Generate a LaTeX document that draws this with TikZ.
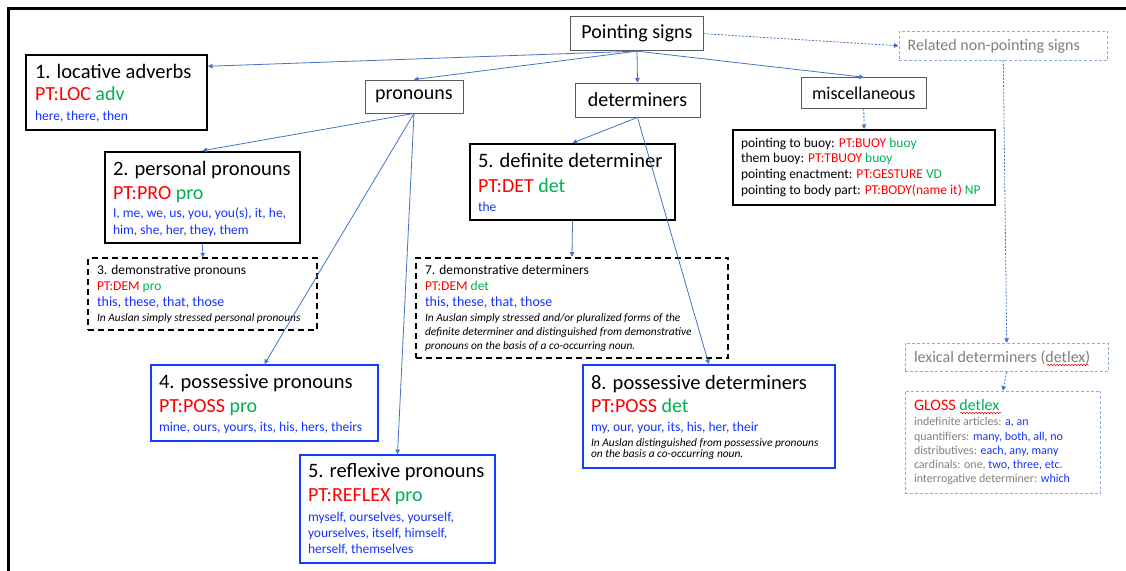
\documentclass[tikz,border=0pt]{standalone}
\usepackage{fontspec}
\setmainfont{Carlito}
\usetikzlibrary{arrows.meta,decorations.pathmorphing}

\definecolor{ptred}{RGB}{255,0,0}
\definecolor{ptgreen}{RGB}{0,176,80}
\definecolor{ptblue}{RGB}{20,50,255}
\definecolor{boxblue}{RGB}{20,60,255}
\definecolor{linkblue}{RGB}{68,114,196}
\definecolor{softblue}{RGB}{143,170,220}
\definecolor{textgray}{RGB}{127,127,127}
\definecolor{boxgray}{RGB}{89,89,89}

\newcommand\setfs[1]{\fontsize{#1}{#1}\selectfont}
\newcommand\txtline[4]{\node[txt] (#1) at (#2,#3) {#4};}
\newcommand\rd[1]{\textcolor{ptred}{#1}}
\newcommand\gr[1]{\textcolor{ptgreen}{#1}}
\newcommand\bl[1]{\textcolor{ptblue}{#1}}

\tikzset{
  frame/.style={line width=3pt, black, line join=miter},
  catbox/.style={draw=boxgray, line width=0.9pt, inner sep=0, font=\setfs{20}},
  solidbox/.style={draw=black, line width=2pt, inner sep=0},
  dashbox/.style={draw=black, line width=2pt, dash pattern=on 6pt off 4pt, inner sep=0},
  bluebox/.style={draw=boxblue, line width=2pt, inner sep=0},
  softbox/.style={draw=softblue, line width=0.9pt, dash pattern=on 3pt off 2pt, inner sep=0},
  txt/.style={anchor=base west, inner sep=0, outer sep=0},
  note/.style={font=\setfs{11.4}\itshape},
  link/.style={draw=linkblue, line width=0.8pt, -{Triangle[length=4.5pt,width=4.5pt]}},
  softlink/.style={link, dash pattern=on 2pt off 1.5pt},
  squiggle/.style={draw=ptred, line width=0.5pt, decorate,
    decoration={snake, amplitude=0.7pt, segment length=3pt}},
}

\begin{document}
\begin{tikzpicture}[x=1pt, y=-1pt]
\useasboundingbox (0,0) rectangle (1126,570);

% outer frame
\draw[frame] (8,572) -- (8,8) -- (1128,8);

% category boxes
\node[catbox, minimum width=132.6, minimum height=34] (ps) at (637,33.7) {Pointing signs};
\node[catbox, minimum width=98, minimum height=33] (pron) at (414,96.5) {pronouns};
\node[catbox, minimum width=125, minimum height=34] (det) at (637.5,100) {determiners};
\node[catbox, minimum width=124.3, minimum height=30.6, font=\setfs{18}] (misc) at (863.8,93) {miscellaneous};
\node[softbox, minimum width=208.7, minimum height=28.3] (rel) at (1003.3,45.8) {};

% detail boxes
\node[solidbox, minimum width=262, minimum height=75] (miscbox) at (864,167.5) {};
\node[solidbox, minimum width=181, minimum height=75] (loc) at (116.5,92.5) {};
\node[solidbox, minimum width=195, minimum height=91.6] (pers) at (202.5,197.5) {};
\node[dashbox, minimum width=229, minimum height=71.7] (dem) at (202.8,294.2) {};
\node[solidbox, minimum width=205, minimum height=76] (def) at (572.5,182) {};
\node[dashbox, minimum width=312, minimum height=100.6] (demdet) at (572,308) {};
\node[bluebox, minimum width=227.6, minimum height=76] (poss) at (264.5,403) {};
\node[bluebox, minimum width=195, minimum height=108.3] (refl) at (397.5,509.2) {};
\node[bluebox, minimum width=252.3, minimum height=103.3] (possdet) at (708.8,416.7) {};
\node[softbox, minimum width=203.3, minimum height=28.4] (lex) at (1006.7,357.5) {};
\node[softbox, minimum width=195.7, minimum height=102.3] (gloss) at (1002.8,442.2) {};

% 1. locative adverbs
\txtline{locA}{35}{78.3}{\setfs{20.5}1. locative adverbs}
\txtline{locB}{35}{100.7}{\setfs{20}\rd{PT:LOC} \gr{adv}}
\txtline{locC}{35}{120.7}{\setfs{13.5}\bl{here, there, then}}

% 2. personal pronouns
\txtline{persA}{113}{175}{\setfs{20.5}2. personal pronouns}
\txtline{persB}{113}{199.3}{\setfs{20}\rd{PT:PRO} \gr{pro}}
\txtline{persC}{113}{217.3}{\setfs{13.5}\bl{I, me, we, us, you, you(s), it, he,}}
\txtline{persD}{113}{234}{\setfs{13.5}\bl{him, she, her, they, them}}

% 3. demonstrative pronouns
\txtline{demA}{97}{274}{\setfs{13.5}3. demonstrative pronouns}
\txtline{demB}{97}{290.7}{\setfs{13.5}\rd{PT:DEM} \gr{pro}}
\txtline{demC}{97}{306.7}{\setfs{14}\bl{this, these, that, those}}
\node[txt, note] (demD) at (97,321.7) {In Auslan simply stressed personal pronouns};

% 5. definite determiner
\txtline{defA}{478}{167.3}{\setfs{20.5}5. definite determiner}
\txtline{defB}{478}{192.3}{\setfs{20}\rd{PT:DET} \gr{det}}
\txtline{defC}{478}{211}{\setfs{13.5}\bl{the}}

% 7. demonstrative determiners
\txtline{ddA}{425}{274}{\setfs{13.5}7. demonstrative determiners}
\txtline{ddB}{425}{290.7}{\setfs{13.5}\rd{PT:DEM} \gr{det}}
\txtline{ddC}{425}{306.7}{\setfs{14}\bl{this, these, that, those}}
\node[txt, note] (ddD) at (425,321.7) {In Auslan simply stressed and/or pluralized forms of the};
\node[txt, note] (ddE) at (425,335.7) {definite determiner and distinguished from demonstrative};
\node[txt, note] (ddF) at (425,349) {pronouns on the basis of a co-occurring noun.};

% 4. possessive pronouns
\txtline{possA}{159}{388.3}{\setfs{20.5}4. possessive pronouns}
\txtline{possB}{159}{412.3}{\setfs{20}\rd{PT:POSS} \gr{pro}}
\txtline{possC}{159}{431}{\setfs{13.5}\bl{mine, ours, yours, its, his, hers, theirs}}

% 5. reflexive pronouns
\txtline{reflA}{308}{477.7}{\setfs{20.5}5. reflexive pronouns}
\txtline{reflB}{308}{501.7}{\setfs{20}\rd{PT:REFLEX} \gr{pro}}
\txtline{reflC}{308}{521.7}{\setfs{13.5}\bl{myself, ourselves, yourself,}}
\txtline{reflD}{308}{537.3}{\setfs{13.5}\bl{yourselves, itself, himself,}}
\txtline{reflE}{308}{553.7}{\setfs{13.5}\bl{herself, themselves}}

% 8. possessive determiners
\txtline{pdA}{591}{389}{\setfs{20.5}8. possessive determiners}
\txtline{pdB}{591}{412.3}{\setfs{20}\rd{PT:POSS} \gr{det}}
\txtline{pdC}{591}{431}{\setfs{13.5}\bl{my, our, your, its, his, her, their}}
\node[txt, note] (pdD) at (591,446) {In Auslan distinguished from possessive pronouns};
\node[txt, note] (pdE) at (591,457.7) {on the basis a co-occurring noun.};

% miscellaneous pointing signs
\txtline{miA}{741}{147.3}{\setfs{13.5}pointing to buoy: \rd{PT:BUOY} \gr{buoy}}
\txtline{miB}{741}{162.7}{\setfs{13.5}them buoy: \rd{PT:TBUOY} \gr{buoy}}
\txtline{miC}{741}{178.3}{\setfs{13.5}pointing enactment: \rd{PT:GESTURE} \gr{VD}}
\txtline{miD}{741}{194}{\setfs{13.5}pointing to body part: \rd{PT:BODY(name it)} \gr{NP}}

% related non-pointing signs
\txtline{relA}{907.7}{50}{\setfs{16}\color{textgray}Related non-pointing signs}
\txtline{lexA}{914}{362.3}{\setfs{16}\color{textgray}lexical determiners (detlex)}
\txtline{glA}{914}{410}{\setfs{16}\rd{GLOSS} \gr{detlex}}
\txtline{glB}{914}{425}{\setfs{12}\color{textgray}indefinite articles: \bl{a, an}}
\txtline{glC}{914}{440}{\setfs{12}\color{textgray}quantifiers: \bl{many, both, all, no}}
\txtline{glD}{914}{454}{\setfs{12}\color{textgray}distributives: \bl{each, any, many}}
\txtline{glE}{914}{468.3}{\setfs{12}\color{textgray}cardinals: one, \bl{two, three, etc.}}
\txtline{glF}{914}{482.3}{\setfs{12}\color{textgray}interrogative determiner: \bl{which}}

% spell-check underlines
\draw[squiggle] (1047,365) -- (1089,365);
\draw[squiggle] (960,413) -- (1001,413);

% connectors
\draw[link] (ps.south) -- (loc.16.3);
\draw[link] (ps.south) -- (pron.north);
\draw[link] (ps.south) -- (det.north);
\draw[link] (ps.south) -- (misc.north);
\draw[softlink] (ps.east) -- (rel.west);
\draw[softlink] (misc.south) -- (miscbox.north);
\draw[softlink] (rel.south) -- (lex.north);
\draw[softlink] (lex.south) -- (gloss.north);
\draw[link] (pron.south) -- (pers.north);
\draw[link] (pron.south) -- (poss.north);
\draw[link] (pron.south) -- (refl.north);
\draw[link] (pers.south) -- (dem.north);
\draw[link] (det.south) -- (def.north);
\draw[link] (det.south) -- (possdet.north);
\draw[link] (def.south) -- (demdet.north);
\end{tikzpicture}
\end{document}
